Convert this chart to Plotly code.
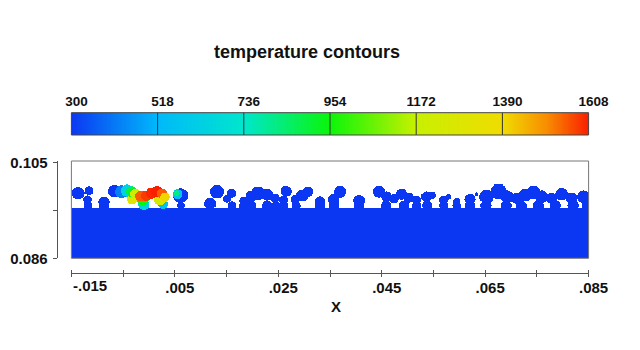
import numpy as np
import plotly.graph_objects as go

# ---------------- colour legend levels (temperature, K) ----------------
level_values = [300, 518, 736, 954, 1172, 1390, 1608]
level_labels = ["300", "518", "736", "954", "1172", "1390", "1608"]

# ---------------- axis ticks ----------------
x_tick_values = [-0.015, -0.005, 0.005, 0.015, 0.025, 0.035, 0.045, 0.055, 0.065, 0.075, 0.085]
x_tick_labels = ["", "", ".005", "", ".025", "", ".045", "", ".065", "", ".085"]
x_first_label = "-.015"
y_tick_values = [0.086, 0.0955, 0.105]
y_tick_labels = ["0.086", "", "0.105"]

# ---------------- substrate ----------------
substrate_top = 0.0960
substrate_temp = 300

# ---------------- cold powder particles (mm), all at 300 K ----------------
cold_x = [-13.72, -11.60, -11.89, -11.79, -8.70, -8.70, -6.67,
          11.79, 13.15, 15.08, 15.95, 16.05, 18.37, 18.37, 19.72, 21.07, 22.81, 24.36, 19.72, 22.81, 24.55,
          26.48, 26.00, 26.00, 28.22, 29.58, 30.74, 28.42,
          33.06, 33.06, 35.67, 35.76, 36.92, 40.59, 40.59,
          44.46, 45.91, 45.81, 47.36, 48.81, 50.16, 49.29, 51.71, 51.71, 53.64, 54.71, 53.74,
          56.93, 56.93, 57.90, 59.44, 59.44, 62.05, 62.05, 63.31,
          65.24, 67.56, 69.20, 71.04, 72.68, 74.33, 75.87, 77.81, 79.74, 81.67, 83.99,
          65.14, 68.99, 71.91, 75.20, 78.48, 81.96, 84.67]
cold_y = [98.954, 99.450, 97.664, 96.470, 97.168, 96.470, 99.350,
          96.871, 99.251, 97.863, 98.954, 96.470, 97.367, 96.470, 98.358, 98.954, 98.656, 97.962, 96.470, 96.470, 96.470,
          99.350, 97.565, 96.470, 97.763, 98.497, 99.251, 96.470,
          97.367, 96.470, 97.664, 96.470, 99.251, 97.466, 96.470,
          99.251, 98.259, 96.470, 97.863, 98.755, 98.061, 96.470, 97.565, 96.470, 98.259, 98.557, 96.470,
          97.565, 96.470, 98.259, 97.267, 96.470, 97.763, 96.470, 98.755,
          98.259, 99.251, 98.259, 97.962, 98.557, 99.152, 98.259, 97.962, 98.755, 97.962, 98.259,
          96.470, 96.470, 96.470, 96.470, 96.470, 96.470, 96.470]
cold_r = [1.232, 0.896, 0.851, 0.850, 1.120, 1.000, 1.232,
          1.164, 1.343, 0.783, 0.896, 0.850, 0.896, 0.950, 1.120, 1.343, 1.187, 0.896, 1.000, 1.000, 0.900,
          1.075, 0.896, 0.950, 0.896, 1.187, 1.007, 0.900,
          0.963, 1.000, 1.120, 1.000, 1.187, 1.120, 1.000,
          1.164, 1.052, 1.000, 0.896, 1.120, 1.007, 1.000, 0.896, 0.900, 1.052, 0.740, 1.000,
          0.896, 0.900, 0.560, 0.740, 0.850, 1.052, 1.000, 0.380,
          1.400, 1.550, 1.250, 1.100, 1.250, 1.330, 1.250, 1.100, 1.250, 1.100, 1.250,
          1.070, 1.070, 1.070, 1.070, 1.070, 1.070, 1.070]

# ---------------- heated zone under the laser (mm, K), painted in order ----------------
hot_x = [-0.97, 2.71, -3.28, -1.16, 2.13,
         -5.31, -4.25, -3.38, -2.61, -1.64, -0.58, 0.49, 1.55, 2.51, 3.09,
         6.19, 6.09, 5.51, 5.32]
hot_y = [96.672, 96.771, 97.763, 97.664, 97.763,
         99.251, 99.450, 99.251, 98.755, 98.358, 98.458, 98.954, 99.251, 98.854, 98.160,
         96.470, 98.458, 98.755, 98.954]
hot_r = [1.070, 0.970, 1.020, 1.120, 1.220,
         1.270, 1.170, 1.070, 1.070, 1.020, 1.020, 1.120, 1.120, 1.020, 0.930,
         0.750, 1.460, 0.974, 0.584]
hot_t = [650, 560, 1300, 950, 1250,
         420, 640, 900, 1200, 1550, 1580, 1600, 1608, 1550, 1400,
         300, 300, 560, 820]

assert len(cold_x) == len(cold_y) == len(cold_r)
assert len(hot_x) == len(hot_y) == len(hot_r) == len(hot_t)

# ---------------- temperature field on a fine grid ----------------
gx = np.linspace(-0.015, 0.085, 1001)
gy = np.linspace(0.086, 0.1053, 194)
GX, GY = np.meshgrid(gx, gy)
field = np.full(GX.shape, np.nan)
field[GY <= substrate_top] = substrate_temp
for cx, cy, r in zip(cold_x, cold_y, cold_r):
    cx, cy, r = cx / 1000, cy / 1000, r / 1000
    field[(GX - cx) ** 2 + (GY - cy) ** 2 <= r * r] = substrate_temp
for cx, cy, r, t in zip(hot_x, hot_y, hot_r, hot_t):
    cx, cy, r = cx / 1000, cy / 1000, r / 1000
    field[(GX - cx) ** 2 + (GY - cy) ** 2 <= r * r] = t

colorscale = [
    [0.0, "rgb(12,55,242)"],
    [1 / 6, "rgb(0,185,250)"],
    [2 / 6, "rgb(0,230,205)"],
    [0.5, "rgb(10,245,10)"],
    [4 / 6, "rgb(200,240,0)"],
    [5 / 6, "rgb(240,220,0)"],
    [0.92, "rgb(248,140,0)"],
    [1.0, "rgb(250,30,0)"],
]

W, H = 640, 350


def fx(px):
    return px / W


def fy(py):
    return 1 - py / H


left, right = fx(71.4), fx(588.6)
font_b = dict(family="Liberation Sans, Arial, sans-serif", color="#111111", weight="bold")

fig = go.Figure()

fig.add_trace(go.Heatmap(x=gx, y=gy, z=field, coloraxis="coloraxis", xaxis="x", yaxis="y",
                         hoverinfo="skip", zsmooth=False))
# colour legend ramp
ramp = np.linspace(level_values[0], level_values[-1], 655)
fig.add_trace(go.Heatmap(x=ramp, y=[0, 1], z=[ramp, ramp], coloraxis="coloraxis",
                         xaxis="x2", yaxis="y2", hoverinfo="skip"))
# carrier for the upward tick marks of the x axis
fig.add_trace(go.Scatter(x=[None], y=[None], xaxis="x3", yaxis="y", showlegend=False, hoverinfo="skip"))

axis_pos = fy(272.7)
fig.update_layout(
    width=W, height=H, autosize=False,
    margin=dict(l=0, r=0, t=0, b=0),
    paper_bgcolor="white", plot_bgcolor="white",
    showlegend=False,
    coloraxis=dict(colorscale=colorscale, cmin=level_values[0], cmax=level_values[-1], showscale=False),
    xaxis=dict(domain=[left, right], range=[-0.015, 0.085], anchor="free", position=axis_pos,
               showline=True, linecolor="#555555", linewidth=1, ticks="outside", ticklen=3,
               tickcolor="#555555", tickvals=x_tick_values, ticktext=x_tick_labels,
               tickfont=dict(size=15, **font_b), ticklabelshift=5, ticklabelstandoff=-2,
               showgrid=False, zeroline=False, automargin=False),
    xaxis3=dict(domain=[left, right], range=[-0.015, 0.085], anchor="free", position=axis_pos,
                overlaying="x", side="top", showline=False, ticks="outside", ticklen=3,
                tickcolor="#555555", tickvals=x_tick_values, showticklabels=False,
                showgrid=False, zeroline=False, automargin=False),
    yaxis=dict(domain=[fy(258.3), fy(161)], range=[0.086, 0.1053], anchor="free",
               position=fx(56.7), side="left", showline=True, linecolor="#555555", linewidth=1,
               ticks="outside", ticklen=4, tickcolor="#555555", tickvals=y_tick_values,
               ticktext=y_tick_labels, tickfont=dict(size=15, **font_b), ticklabelstandoff=2,
               showgrid=False, zeroline=False, automargin=False),
    xaxis2=dict(domain=[left, right], range=[level_values[0], level_values[-1]], anchor="y2",
                side="top", ticks="", tickvals=level_values, ticktext=level_labels,
                tickfont=dict(size=13.5, **font_b), ticklabelshift=5, ticklabelstandoff=3,
                showline=False, showgrid=False, zeroline=False, automargin=False),
    yaxis2=dict(domain=[fy(135), fy(112.7)], range=[0, 1], anchor="x2", visible=False,
                automargin=False),
)

shapes = []
# divisions of the colour legend
for v in level_values[1:-1]:
    shapes.append(dict(type="line", xref="x2", yref="y2 domain", x0=v, x1=v, y0=0, y1=1,
                       line=dict(color="#333333", width=1)))
shapes.append(dict(type="rect", xref="x2 domain", yref="y2 domain", x0=0, x1=1, y0=0, y1=1,
                   line=dict(color="#444444", width=1)))
# frame of the contour plot
shapes.append(dict(type="rect", xref="x domain", yref="y domain", x0=0, x1=1, y0=0, y1=1,
                   line=dict(color="#777777", width=1), layer="above"))
fig.update_layout(shapes=shapes)

fig.add_annotation(text=x_first_label, xref="x", yref="paper", x=-0.015, y=fy(285.8),
                   xanchor="left", yanchor="middle", showarrow=False, font=dict(size=15, **font_b))
fig.add_annotation(text="X", xref="paper", yref="paper", x=fx(335.5), y=fy(306.7),
                   xanchor="center", yanchor="middle", showarrow=False, font=dict(size=15, **font_b))
fig.add_annotation(text="temperature contours", xref="paper", yref="paper", x=fx(307), y=fy(52),
                   xanchor="center", yanchor="middle", showarrow=False, font=dict(size=18, **font_b))

fig.write_html("out.html")
